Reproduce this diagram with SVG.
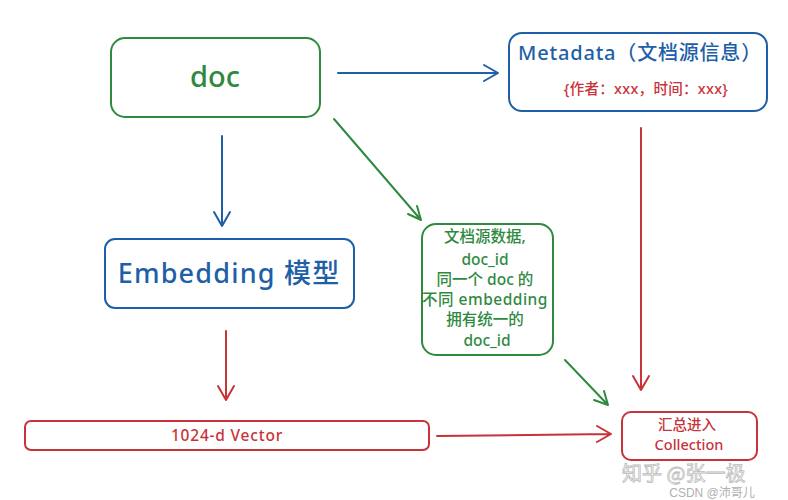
<svg xmlns="http://www.w3.org/2000/svg" width="788" height="500" viewBox="0 0 788 500">
<style>
.box{fill:#fff;stroke-width:2}
.g{stroke:#2f8a3f}.b{stroke:#1e5fa8}.r{stroke:#c8333a}
.t{font-family:"Noto Sans","Noto Sans CJK SC",sans-serif;font-weight:500;text-anchor:middle}
.tg{fill:#2f8a3f}.tb{fill:#1e5fa8}.tr{fill:#c8333a}
.ln{fill:none;stroke-width:2;stroke-linecap:round;stroke-linejoin:round}
.wm{font-family:"Noto Sans CJK SC","Noto Sans",sans-serif;fill:#ffffff;stroke:#bbbbbb;stroke-width:0.8}
</style>
<rect width="788" height="500" fill="#fff"/>
<g id="connectors">
<path class="ln b" d="M338 73 L498 73 M484 65 L498 73 L484 81"/>
<path class="ln b" d="M222 136 L222 226 M214 212 L222 226 L230 212"/>
<path class="ln g" d="M334 119 L421 220 M408 214 L421 220 L417 206"/>
<path class="ln r" d="M226 331 L226 400 M218 386 L226 400 L234 386"/>
<path class="ln r" d="M437 436 L611 434 M597 426 L611 434 L597 442"/>
<path class="ln g" d="M565 360 L608 405 M594 400 L608 405 L604 391"/>
<path class="ln r" d="M641 128 L641 390 M633 376 L641 390 L649 376"/>
</g>
<g id="doc">
<rect class="box g" x="111" y="38" width="209" height="79" rx="14"/>
<text class="t tg" x="215" y="87" font-size="29">doc</text>
</g>
<g id="metadata">
<rect class="box b" x="509" y="33" width="258" height="78" rx="13"/>
<text class="t tb" x="640" y="60" font-size="20" letter-spacing="0.8">Metadata（文档源信息）</text>
<text class="t tr" x="646" y="94" font-size="14.5" letter-spacing="0.3">{作者：xxx，时间：xxx}</text>
</g>
<g id="embedding">
<rect class="box b" x="105" y="239" width="249" height="69" rx="10"/>
<text class="t tb" x="229" y="283" font-size="27" letter-spacing="1.2">Embedding 模型</text>
</g>
<g id="docid">
<rect class="box g" x="422" y="224" width="131" height="131" rx="14"/>
<text class="t tg" font-size="15.5">
<tspan x="487" y="242">文档源数据,</tspan>
<tspan x="487" y="265">doc_id</tspan>
<tspan x="487" y="285">同一个 doc 的</tspan>
<tspan x="487" y="305" letter-spacing="0.5">不同 embedding</tspan>
<tspan x="487" y="325">拥有统一的</tspan>
<tspan x="487" y="346">doc_id</tspan>
</text>
</g>
<g id="vector">
<rect class="box r" x="25" y="421" width="404" height="29" rx="6"/>
<text class="t tr" x="227" y="441" font-size="15.5" letter-spacing="0.8">1024-d Vector</text>
</g>
<g id="collection">
<rect class="box r" x="622" y="412" width="135" height="48" rx="9"/>
<text class="t tr" font-size="14.5">
<tspan x="689" y="430">汇总进入</tspan>
<tspan x="689" y="450">Collection</tspan>
</text>
</g>
<text class="wm" x="622" y="481" font-size="20">知乎 @张一极</text>
<text x="712" y="497" font-size="12" text-anchor="middle" font-family="Liberation Sans,Noto Sans CJK SC,sans-serif" fill="#b0b0b0">CSDN @沛哥儿</text>
</svg>
